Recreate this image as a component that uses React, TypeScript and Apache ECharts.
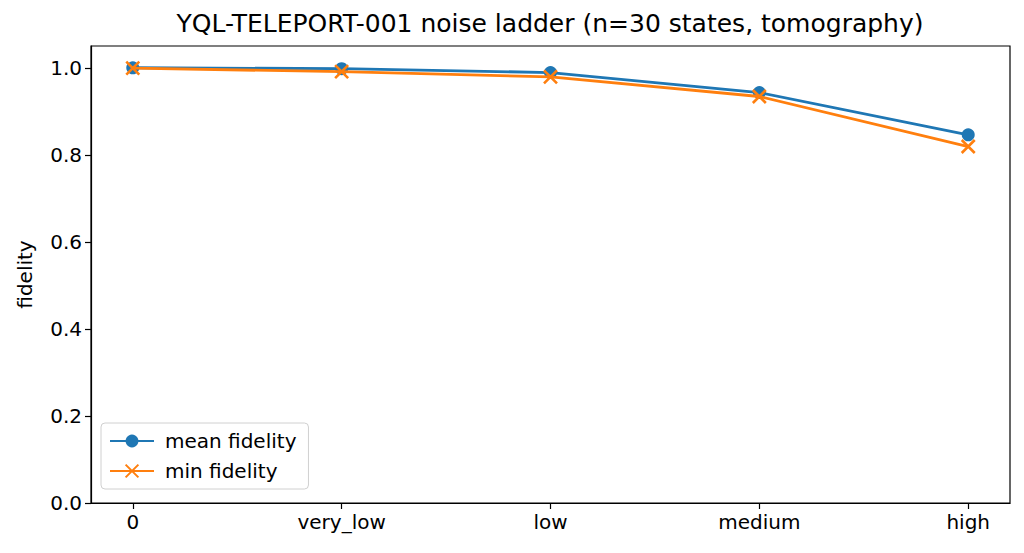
import React, { useEffect, useRef } from "react";
import * as echarts from "echarts";

const categories = ["0", "very_low", "low", "medium", "high"];
const meanFidelity = [1.0, 0.998, 0.989, 0.943, 0.846];
const minFidelity = [0.999, 0.991, 0.979, 0.934, 0.819];
const yTicks = [0, 0.2, 0.4, 0.6, 0.8, 1.0];
const titleText = "YQL-TELEPORT-001 noise ladder (n=30 states, tomography)";

const FONT = "DejaVu Sans";

export default function App() {
  const ref = useRef<HTMLDivElement>(null);
  useEffect(() => {
    if (!ref.current) return;
    const chart = echarts.init(ref.current, undefined, { renderer: "svg" });
    const xIdx = categories.map((_, i) => i);
    chart.setOption({
      animation: false,
      backgroundColor: "#ffffff",
      textStyle: { fontFamily: FONT },
      title: {
        text: titleText,
        left: 545,
        textAlign: "center",
        top: 6,
        textStyle: { fontFamily: FONT, fontSize: 25, fontWeight: "normal", color: "#000" },
      },
      grid: {
        left: 91,
        right: 14,
        top: 46,
        bottom: 50,
        show: true,
        borderColor: "#000",
        borderWidth: 1.2,
        backgroundColor: "transparent",
      },
      legend: {
        orient: "vertical",
        left: 101,
        top: 423,
        itemWidth: 44,
        itemHeight: 16,
        itemGap: 10,
        padding: [8, 12, 8, 8],
        borderColor: "#d0d0d0",
        borderWidth: 1,
        borderRadius: 4,
        backgroundColor: "rgba(255,255,255,0.8)",
        textStyle: { fontFamily: FONT, fontSize: 20, color: "#000", padding: [0, 0, 0, 6] },
        data: ["mean fidelity", "min fidelity"],
      },
      xAxis: {
        type: "value",
        min: -0.2,
        max: 4.2,
        splitLine: { show: false },
        axisLine: { show: true, onZero: false, lineStyle: { color: "#000", width: 1.2 } },
        axisTick: {
          show: true,
          length: 6,
          lineStyle: { color: "#000", width: 1.2 },
          customValues: xIdx,
        },
        axisLabel: {
          customValues: xIdx,
          formatter: (v: number) => categories[Math.round(v)] ?? "",
          fontFamily: FONT,
          fontSize: 20,
          color: "#000",
          margin: 9,
        },
      },
      yAxis: {
        type: "value",
        min: 0,
        max: 1.05,
        name: "fidelity",
        nameLocation: "middle",
        nameGap: 56,
        nameTextStyle: { fontFamily: FONT, fontSize: 20, color: "#000" },
        splitLine: { show: false },
        axisLine: { show: true, onZero: false, lineStyle: { color: "#000", width: 1.2 } },
        axisTick: {
          show: true,
          length: 6,
          lineStyle: { color: "#000", width: 1.2 },
          customValues: yTicks,
        },
        axisLabel: {
          customValues: yTicks,
          formatter: (v: number) => v.toFixed(1),
          fontFamily: FONT,
          fontSize: 20,
          color: "#000",
          margin: 9,
        },
      },
      series: [
        {
          name: "mean fidelity",
          type: "line",
          data: meanFidelity.map((v, i) => [i, v]),
          symbol: "circle",
          symbolSize: 13,
          showAllSymbol: true,
          lineStyle: { color: "#1f77b4", width: 2.8 },
          itemStyle: { color: "#1f77b4" },
          z: 2,
        },
        {
          name: "min fidelity",
          type: "line",
          data: minFidelity.map((v, i) => [i, v]),
          symbol: "path://M0,0L10,10M10,0L0,10",
          symbolSize: 13,
          showAllSymbol: true,
          lineStyle: { color: "#ff7f0e", width: 2.8 },
          itemStyle: { color: "#ff7f0e", borderColor: "#ff7f0e", borderWidth: 2.6 },
          z: 3,
        },
      ],
    });
    return () => chart.dispose();
  }, []);
  return (
    <div
      ref={ref}
      style={{ position: "fixed", left: 0, top: 0, width: 1024, height: 553 }}
    />
  );
}
